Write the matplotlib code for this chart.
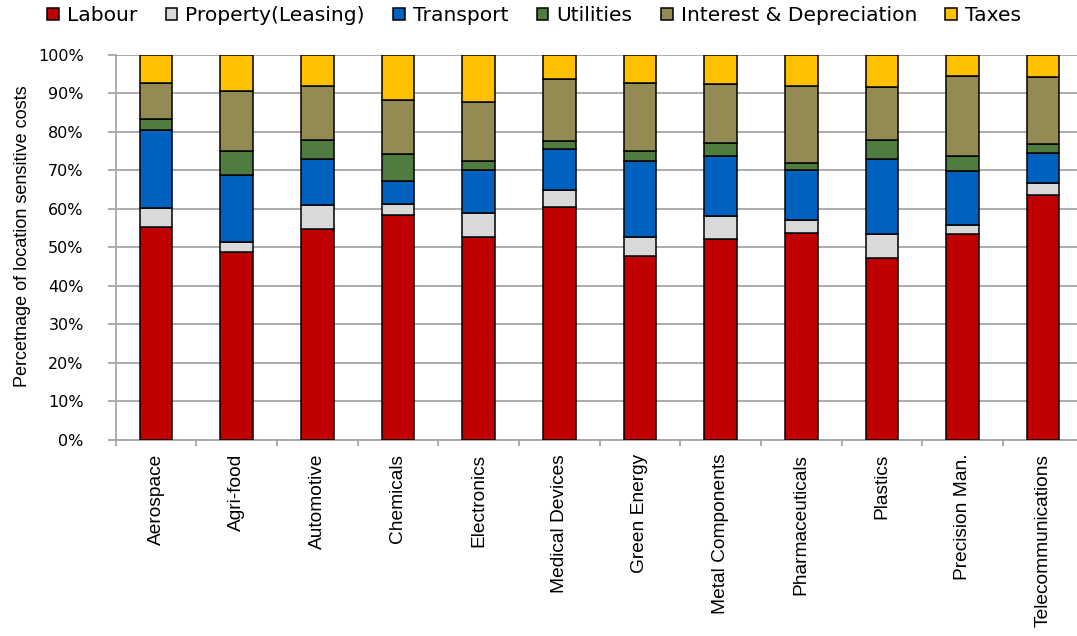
import matplotlib
matplotlib.use("Agg")
import matplotlib.pyplot as plt
from matplotlib.ticker import FixedLocator, MultipleLocator, PercentFormatter
import numpy as np

SECTORS = [
    "Aerospace", "Agri-food", "Automotive", "Chemicals", "Electronics",
    "Medical Devices", "Green Energy", "Metal Components", "Pharmaceuticals",
    "Plastics", "Precision Man.", "Telecommunications",
]

# share of location sensitive costs, %
labour = [55.4, 48.9, 54.8, 58.5, 52.7, 60.4, 47.7, 52.2, 53.8, 47.3, 53.4, 63.7]
property_leasing = [4.9, 2.6, 6.2, 2.7, 6.2, 4.4, 5.1, 5.9, 3.3, 6.1, 2.4, 3.1]
transport = [20.1, 17.3, 11.9, 5.9, 11.2, 10.8, 19.7, 15.7, 12.9, 19.4, 14.1, 7.8]
utilities = [2.8, 6.1, 5.0, 7.0, 2.4, 1.9, 2.4, 3.4, 2.0, 5.0, 3.9, 2.3]
interest_depr = [9.5, 15.8, 14.1, 14.2, 15.3, 16.2, 17.8, 15.2, 19.8, 13.7, 20.6, 17.3]
taxes = [7.3, 9.3, 8.0, 11.7, 12.2, 6.3, 7.3, 7.6, 8.2, 8.5, 5.6, 5.8]

SERIES = [
    ("Labour", labour, "#C00000"),
    ("Property(Leasing)", property_leasing, "#D9D9D9"),
    ("Transport", transport, "#0062C0"),
    ("Utilities", utilities, "#4F7D3F"),
    ("Interest & Depreciation", interest_depr, "#948B54"),
    ("Taxes", taxes, "#FFC000"),
]

LABEL_FONT = ["Liberation Sans", "DejaVu Sans"]
GRID = "#a6a6a6"

fig = plt.figure(figsize=(10.77, 6.36), dpi=100)
ax = fig.add_axes([0.1074, 0.3082, 0.8986, 0.6058])

x = np.arange(len(SECTORS))
bottom = np.zeros(len(SECTORS))
for name, values, color in SERIES:
    vals = np.array(values) / 100.0
    ax.bar(x, vals, width=0.405, bottom=bottom, color=color,
           edgecolor="black", linewidth=1.1, label=name, zorder=3)
    bottom += vals

ax.set_xlim(-0.5, len(SECTORS) - 0.5)
ax.set_ylim(0, 1)
ax.yaxis.set_major_locator(MultipleLocator(0.1))
ax.yaxis.set_major_formatter(PercentFormatter(1.0, decimals=0))
ax.grid(axis="y", color=GRID, linewidth=1.3, zorder=0)
ax.set_axisbelow(True)

for side in ("top", "right"):
    ax.spines[side].set_visible(False)
for side in ("left", "bottom"):
    ax.spines[side].set_color(GRID)
    ax.spines[side].set_linewidth(1.3)

ax.set_xticks(x)
ax.set_xticklabels(SECTORS, rotation=90, family=LABEL_FONT, fontsize=13.8)
ax.tick_params(axis="x", which="major", length=0, pad=10)
ax.xaxis.set_minor_locator(FixedLocator(np.arange(-0.5, len(SECTORS), 1.0)))
ax.tick_params(axis="x", which="minor", length=4, width=1.3, color=GRID)
ax.tick_params(axis="y", length=6, width=1.3, color=GRID, labelsize=11.5, pad=17)

ax.set_ylabel("Percetnage of location sensitive costs", family=LABEL_FONT,
              fontsize=13)
ax.yaxis.set_label_coords(-0.087, 0.53)

ax.legend(loc="center", bbox_to_anchor=(0.496, 0.975), bbox_transform=fig.transFigure,
          ncol=6, frameon=False, fontsize=14.6, handlelength=0.57, handleheight=0.57,
          handletextpad=0.4, columnspacing=1.4, borderaxespad=0)

fig.savefig("out.png", dpi=100)
